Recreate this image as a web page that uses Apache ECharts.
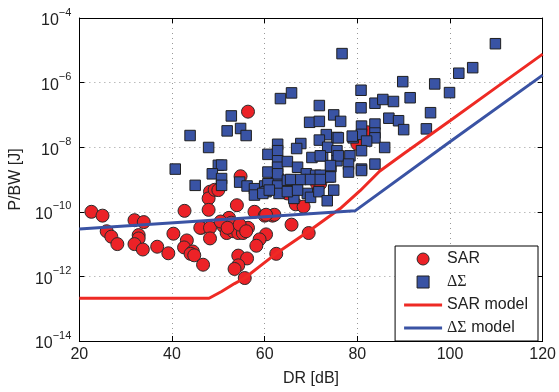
<!DOCTYPE html>
<html>
<head>
<meta charset="utf-8">
<script src="https://cdn.jsdelivr.net/npm/echarts@6/dist/echarts.min.js"></script>
<style>
  html, body { margin: 0; padding: 0; background: #fff; }
  #main { width: 559px; height: 392px; }
</style>
</head>
<body>
<div id="main"></div>
<script>
// SAR converters: DR [dB] and P/BW [J]
const sarDR = [22.6, 25.0, 25.9, 26.9, 28.2, 31.9, 33.9, 32.8, 32.8, 31.9, 33.7, 36.8, 39.2, 42.7, 40.3,
  43.2, 42.6, 44.5, 44.0, 44.8, 46.7, 46.3, 48.2, 47.9, 49.2, 47.9, 54.0, 52.3, 52.8, 51.1,
  51.8, 53.2, 54.3, 55.3, 56.4, 57.8, 60.0, 61.7, 46.1, 48.2, 48.2, 60.3, 58.9, 58.2, 65.8,
  54.3, 56.2, 54.3, 53.5, 55.7, 62.5, 66.7, 68.4, 69.5, 56.4, 54.8, 62.8, 71.3, 64.9, 82.2,
  80.0, 72.0, 50.0, 50.5, 52.0, 54.6, 56.0, 62.1, 60.3];
const sarPB = [1.0e-10, 7.6e-11, 2.5e-11, 1.7e-11, 1.0e-11, 5.5e-11, 4.8e-11, 1.9e-11, 1.5e-11, 1.0e-11, 6.8e-12, 8.3e-12, 5.2e-12, 1.07e-10, 2.1e-11,
  1.3e-11, 7.9e-12, 5.9e-12, 5.0e-12, 4.5e-12, 2.3e-12, 3.2e-11, 4.2e-10, 2.6e-10, 4.8e-10, 1.15e-10, 1.6e-10, 6.5e-11, 4.6e-11, 3.6e-11,
  2.2e-11, 2.5e-11, 2.2e-11, 2.2e-11, 3.2e-11, 1.0e-10, 7.6e-11, 7.6e-11, 3.2e-11, 3.2e-11, 1.5e-11, 2.0e-11, 1.4e-11, 8.9e-12, 4.0e-11,
  4.4e-12, 3.6e-12, 2.2e-12, 1.7e-12, 8.9e-13, 5.0e-12, 1.7e-10, 1.45e-10, 2.2e-11, 1.26e-7, 1.26e-9, 1.2e-9, 7.4e-10, 3.7e-10, 2.9e-8,
  1.26e-8, 7.4e-10, 4.7e-10, 5.0e-11, 3.2e-11, 4.0e-11, 2.5e-11, 8.1e-11, 8.1e-11];

// Delta-Sigma converters
const dsDR = [43.9, 47.9, 52.8, 51.9, 54.8, 56.0, 40.7, 45.0, 50.0, 50.7, 48.7, 50.7, 50.7, 54.6, 56.2,
  57.8, 57.8, 60.0, 62.8, 63.4, 65.8, 71.8, 69.7, 71.8, 74.9, 73.3, 71.8, 67.8, 66.9, 60.7,
  60.7, 62.8, 62.8, 62.8, 62.8, 62.8, 64.9, 67.1, 69.0, 70.2, 71.0, 72.5, 73.6, 74.3, 75.6,
  75.6, 75.6, 73.8, 60.7, 62.8, 64.9, 67.0, 69.2, 80.8, 80.8, 83.8, 85.5, 87.8, 91.4, 76.4,
  80.9, 83.8, 86.8, 88.9, 90.0, 75.9, 79.1, 80.9, 83.8, 83.8, 82.0, 78.9, 80.9, 85.9, 72.0,
  75.9, 78.4, 74.2, 78.1, 80.9, 83.8, 78.1, 80.9, 74.9, 74.2, 72.0, 76.7, 89.8, 96.7, 109.8,
  104.9, 101.9, 99.9, 95.8, 94.9, 60.3, 63.1, 66.3, 69.9, 71.7, 73.5, 65.6, 67.8, 69.9, 72.0,
  59.6, 61.0, 64.9, 67.1];
const dsPB = [2.3e-8, 9.8e-9, 9.3e-8, 3.2e-8, 3.8e-8, 2.3e-8, 2.1e-9, 6.6e-10, 2.75e-9, 2.8e-9, 1.5e-9, 1.07e-9, 6.6e-10, 8.3e-10, 6.3e-10,
  5.2e-10, 3.3e-10, 6.3e-10, 1.0e-9, 3.2e-7, 4.8e-7, 1.95e-7, 5.9e-8, 6.3e-8, 1.0e-7, 2.45e-8, 1.66e-8, 1.3e-8, 9.1e-9, 6.0e-9,
  1.7e-9, 1.23e-8, 7.8e-9, 3.8e-9, 2.4e-9, 1.5e-9, 3.6e-9, 2.4e-9, 1.5e-9, 4.8e-9, 1.35e-9, 5.4e-9, 1.0e-8, 2.5e-9, 7.8e-9,
  3.8e-9, 2.0e-8, 1.2e-9, 7.4e-10, 6.3e-10, 9.5e-10, 5.2e-10, 3.7e-10, 5.8e-7, 1.66e-7, 2.3e-7, 3.0e-7, 2.6e-7, 3.4e-7, 6.3e-8,
  4.5e-8, 5.2e-8, 7.9e-8, 6.6e-8, 3.5e-8, 1.95e-8, 1.95e-8, 2.5e-8, 2.75e-8, 1.95e-8, 1.55e-8, 2.2e-8, 7.8e-9, 9.8e-9, 5.4e-9,
  5.4e-9, 5.4e-9, 2.7e-9, 3.0e-9, 2.1e-9, 3.0e-9, 1.7e-9, 1.9e-9, 4.7e-10, 1.2e-9, 1.35e-9, 7.9e-6, 1.07e-6, 9.1e-7, 1.6e-5,
  2.9e-6, 1.95e-6, 4.9e-7, 1.17e-7, 3.7e-8, 4.2e-10, 3.7e-10, 2.6e-10, 2.8e-10, 4.2e-10, 2.2e-10, 1.0e-9, 1.0e-9, 1.0e-9, 1.0e-9,
  3.7e-10, 4.7e-10, 4.2e-10, 4.7e-10];

// model curves
const sarModelDR = [20, 48, 50.7, 53.5, 55.7, 59.2, 62.4, 69.5, 76.3, 80.6, 84.8, 90, 100, 110, 120];
const sarModelPB = [2.1e-13, 2.1e-13, 3.4e-13, 6.0e-13, 8.9e-13, 2.2e-12, 5.0e-12, 2.5e-11, 1.26e-10, 4.5e-10, 1.8e-9, 6.3e-9, 6.6e-8, 7.1e-7, 7.6e-6];
const dsModelDR = [20, 79.5, 100, 120];
const dsModelPB = [2.95e-11, 1.07e-10, 1.48e-8, 1.7e-6];

const pairs = (xs, ys) => xs.map((x, i) => [x, ys[i]]);

const chart = echarts.init(document.getElementById('main'));

const yTicks = v => {
  const e = Math.round(Math.log10(v));
  return '{b|10}{s|' + (e < 0 ? '\u2212' + (-e) : e) + '}';
};

const font = 'Liberation Sans, Arial, sans-serif';
const lineIcon = 'path://M0,0H38V3H0Z';
const squareIcon = 'path://M0,0H10V10H0Z';

option = {
  backgroundColor: '#fff',
  textStyle: { fontFamily: font },
  animation: false,
  grid: { left: 76, right: 14, top: 18, bottom: 45 },
  xAxis: [
    {
      type: 'value', min: 20, max: 120, interval: 20,
      name: 'DR [dB]', nameLocation: 'middle', nameGap: 30,
      nameTextStyle: { fontSize: 16, color: '#222', fontFamily: font },
      axisLine: { lineStyle: { color: '#000', width: 1 } },
      axisTick: { inside: true, length: 5, lineStyle: { color: '#000' } },
      axisLabel: { fontSize: 16, color: '#222', margin: 6, fontFamily: font },
      splitLine: { show: true, lineStyle: { color: '#999', type: [1, 4] } },
    },
    {
      type: 'value', min: 20, max: 120, interval: 20, position: 'top',
      axisLine: { lineStyle: { color: '#000', width: 1 } },
      axisTick: { inside: true, length: 5, lineStyle: { color: '#000' } },
      axisLabel: { show: false },
      splitLine: { show: false },
    },
  ],
  yAxis: [
    {
      type: 'log', logBase: 10, min: 1e-14, max: 1e-4, interval: 2,
      name: 'P/BW [J]', nameLocation: 'middle', nameGap: 47, nameRotate: 90,
      nameTextStyle: { fontSize: 16, color: '#222', fontFamily: font },
      axisLine: { show: true, lineStyle: { color: '#000', width: 1 } },
      axisTick: { show: true, inside: true, length: 5, lineStyle: { color: '#000' } },
      axisLabel: {
        formatter: yTicks, margin: 8, color: '#222',
        rich: {
          b: { fontSize: 16, color: '#222', fontFamily: font, lineHeight: 22, verticalAlign: 'bottom' },
          s: { fontSize: 11, color: '#222', fontFamily: font, lineHeight: 22, verticalAlign: 'top' },
        },
      },
      splitLine: { show: true, lineStyle: { color: '#999', type: [1, 4] } },
    },
    {
      type: 'log', logBase: 10, min: 1e-14, max: 1e-4, interval: 2, position: 'right',
      axisLine: { show: true, lineStyle: { color: '#000', width: 1 } },
      axisTick: { show: true, inside: true, length: 5, lineStyle: { color: '#000' } },
      axisLabel: { show: false },
      splitLine: { show: false },
    },
  ],
  legend: {
    orient: 'vertical',
    right: 21, bottom: 51,
    backgroundColor: '#fff',
    borderColor: '#000', borderWidth: 1, borderRadius: 0,
    padding: [5, 10, 5, 9],
    itemGap: 7, itemWidth: 38, itemHeight: 12,
    symbolKeepAspect: true,
    textStyle: {
      fontSize: 16, color: '#222', fontFamily: font,
      rich: { g: { fontSize: 16, color: '#222', fontFamily: 'Liberation Serif, serif' } },
    },
    formatter: name => name.replace('\u0394\u03a3', '{g|\u0394\u03a3}'),
    data: [
      { name: 'SAR', icon: 'circle', itemStyle: { borderWidth: 1, borderColor: '#2b2b2b' } },
      { name: '\u0394\u03a3', icon: squareIcon, itemStyle: { borderWidth: 1, borderColor: '#1f1f1f' } },
      { name: 'SAR model', icon: lineIcon, itemStyle: { borderWidth: 0 } },
      { name: '\u0394\u03a3 model', icon: lineIcon, itemStyle: { borderWidth: 0 } },
    ],
  },
  series: [
    {
      name: 'SAR', type: 'scatter', symbol: 'circle', symbolSize: 13, z: 2,
      itemStyle: { color: '#ec2227', borderColor: '#2b2b2b', borderWidth: 1, opacity: 1 },
      data: pairs(sarDR, sarPB),
    },
    {
      name: '\u0394\u03a3', type: 'scatter', symbol: 'rect', symbolSize: 10.5, z: 3,
      itemStyle: { color: '#3953a4', borderColor: '#1f1f1f', borderWidth: 1, opacity: 1 },
      data: pairs(dsDR, dsPB),
    },
    {
      name: 'SAR model', type: 'line', symbol: 'none', showSymbol: false, z: 4,
      lineStyle: { color: '#ee2a24', width: 3 }, itemStyle: { color: '#ee2a24' },
      data: pairs(sarModelDR, sarModelPB),
    },
    {
      name: '\u0394\u03a3 model', type: 'line', symbol: 'none', showSymbol: false, z: 5,
      lineStyle: { color: '#3a53a4', width: 3 }, itemStyle: { color: '#3a53a4' },
      data: pairs(dsModelDR, dsModelPB),
    },
  ],
};

option && chart.setOption(option);
</script>
</body>
</html>
